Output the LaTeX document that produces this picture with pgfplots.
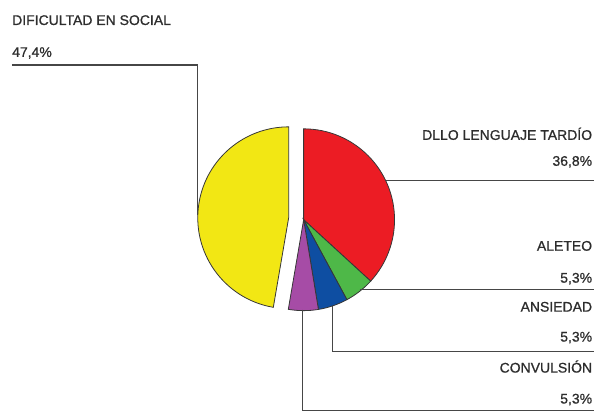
\documentclass[border=0pt]{standalone}
\usepackage{pgfplots}
\pgfplotsset{compat=1.18}
\usepackage{fontspec}
\setmainfont{Liberation Sans}
\newfontfamily\labfont[FakeBold=0.8]{Liberation Sans}
\definecolor{cY}{RGB}{242,231,20}
\definecolor{cR}{RGB}{236,28,36}
\definecolor{cG}{RGB}{78,184,72}
\definecolor{cB}{RGB}{14,78,162}
\definecolor{cM}{RGB}{166,76,166}
\definecolor{edge}{RGB}{55,55,55}
\definecolor{lead}{RGB}{70,70,70}
\definecolor{txt}{RGB}{45,45,45}
\tikzset{lab/.style={font=\labfont\fontsize{14}{16}\selectfont,text=txt,inner sep=0pt}}
\begin{document}
\begin{tikzpicture}
% shares in percent
\def\pY{47.4}\def\pR{36.8}\def\pG{5.3}\def\pB{5.3}\def\pM{5.3}
\pgfmathsetmacro\aA{90}
\pgfmathsetmacro\aB{\aA-\pR*3.6}
\pgfmathsetmacro\aC{\aB-\pG*3.6}
\pgfmathsetmacro\aD{\aC-\pB*3.6}
\pgfmathsetmacro\aE{\aD-\pM*3.6}
\pgfmathsetmacro\aF{\aE-\pY*3.6}
\begin{axis}[width=595pt,height=412pt,scale only axis,
  xmin=0,xmax=595,ymin=0,ymax=412,axis lines=none,clip=false]
\path (axis cs:0,0) rectangle (axis cs:595,412);
\filldraw[fill=cR,draw=edge,line width=0.8pt] (axis cs:304,192) -- ++(\aA:91pt) arc[start angle=\aA,end angle=\aB,radius=91pt] -- cycle;
\filldraw[fill=cG,draw=edge,line width=0.8pt] (axis cs:304,192) -- ++(\aB:91pt) arc[start angle=\aB,end angle=\aC,radius=91pt] -- cycle;
\filldraw[fill=cB,draw=edge,line width=0.8pt] (axis cs:304,192) -- ++(\aC:91pt) arc[start angle=\aC,end angle=\aD,radius=91pt] -- cycle;
\filldraw[fill=cM,draw=edge,line width=0.8pt] (axis cs:304,192) -- ++(\aD:91pt) arc[start angle=\aD,end angle=\aE,radius=91pt] -- cycle;
\filldraw[fill=cY,draw=edge,line width=0.8pt] (axis cs:289,194) -- ++(\aE:91pt) arc[start angle=\aE,end angle=-270,radius=91pt] -- cycle;
% leader lines
\draw[lead,line width=1.4pt] (axis cs:12,347) -- (axis cs:198,347) -- (axis cs:198,197);
\draw[lead,line width=1.4pt] (axis cs:386,231) -- (axis cs:595,231);
\draw[lead,line width=1.4pt] (axis cs:360,122) -- (axis cs:595,122);
\draw[lead,line width=1.4pt] (axis cs:333,106) -- (axis cs:333,60) -- (axis cs:595,60);
\draw[lead,line width=1.4pt] (axis cs:303,102) -- (axis cs:303,1) -- (axis cs:595,1);
% labels
\node[lab,anchor=base west] at (axis cs:12,387) {DIFICULTAD EN SOCIAL};
\node[lab,anchor=base west] at (axis cs:12,355) {47,4\%};
\node[lab,anchor=base east] at (axis cs:593,272) {DLLO LENGUAJE TARDÍO};
\node[lab,anchor=base east] at (axis cs:593,246) {36,8\%};
\node[lab,anchor=base east] at (axis cs:593,161) {ALETEO};
\node[lab,anchor=base east] at (axis cs:593,129) {5,3\%};
\node[lab,anchor=base east] at (axis cs:593,100) {ANSIEDAD};
\node[lab,anchor=base east] at (axis cs:593,70) {5,3\%};
\node[lab,anchor=base east] at (axis cs:593,39) {CONVULSIÓN};
\node[lab,anchor=base east] at (axis cs:593,8) {5,3\%};
\end{axis}
\end{tikzpicture}
\end{document}
